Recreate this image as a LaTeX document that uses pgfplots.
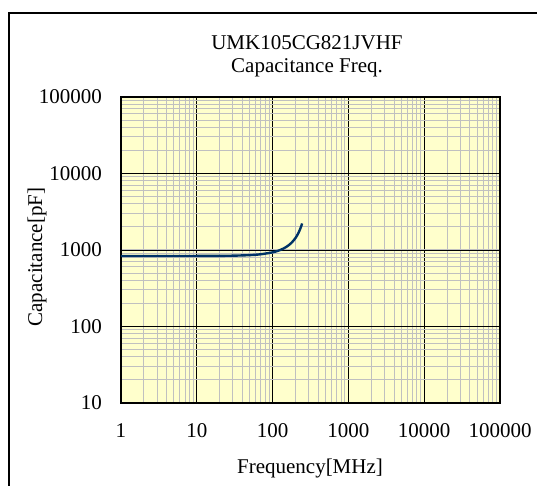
\documentclass[border=0pt]{standalone}
\usepackage{pgfplots}
\pgfplotsset{compat=1.18}
\usepackage{fontspec}
\setmainfont{Liberation Serif}
\definecolor{bgyellow}{RGB}{255,255,204}
\definecolor{minorgray}{RGB}{192,192,192}
\definecolor{curveblue}{RGB}{0,51,102}
\begin{document}
\begin{tikzpicture}
\clip (0,0) rectangle (537bp,486bp);
\useasboundingbox (0,0) rectangle (537bp,486bp);
\draw[line width=1.6bp] (9bp,473bp) rectangle (560bp,-20bp);
\begin{axis}[
  at={(121bp,83bp)}, anchor=south west,
  scale only axis, width=379bp, height=306bp,
  xmode=log, ymode=log,
  xmin=1, xmax=100000, ymin=10, ymax=100000,
  axis background/.style={fill=bgyellow},
  axis line style={line width=1.6bp},
  grid=both,
  major grid style={black, line width=0.8bp},
  minor grid style={minorgray, line width=1bp},
  major tick length=0pt, minor tick length=0pt,
  xtick={1,10,100,1000,10000,100000},
  xticklabels={1,10,100,1000,10000,100000},
  ytick={10,100,1000,10000,100000},
  yticklabels={10,100,1000,10000,100000},
  /pgf/number format/assume math mode=true,
  xticklabel style={font=\fontsize{21bp}{25bp}\selectfont, anchor=base, inner sep=0pt, yshift=-35bp},
  yticklabel style={font=\fontsize{21bp}{25bp}\selectfont, anchor=east, inner sep=0pt, xshift=-19bp},
]
\addplot[curveblue, line width=2.4bp, smooth] coordinates {
(1,835) (2,835) (5,835) (10,836) (20,838.5) (30,843) (50,857) (70,880)
(100,932) (120,982) (140,1049) (160,1138) (180,1260) (200,1430)
(210,1543) (220,1682) (230,1858) (240,2084) (245,2224)
};
\end{axis}
\node[anchor=base, font=\fontsize{21bp}{25bp}\selectfont, inner sep=0pt] at (307bp,436bp) {UMK105CG821JVHF};
\node[anchor=base, font=\fontsize{21bp}{25bp}\selectfont, inner sep=0pt] at (307bp,413bp) {Capacitance Freq.};
\node[anchor=base, font=\fontsize{21bp}{25bp}\selectfont, inner sep=0pt] at (310bp,13bp) {Frequency[MHz]};
\node[anchor=base, rotate=90, font=\fontsize{21bp}{25bp}\selectfont, inner sep=0pt] at (42bp,229bp) {Capacitance[pF]};
\end{tikzpicture}
\end{document}
